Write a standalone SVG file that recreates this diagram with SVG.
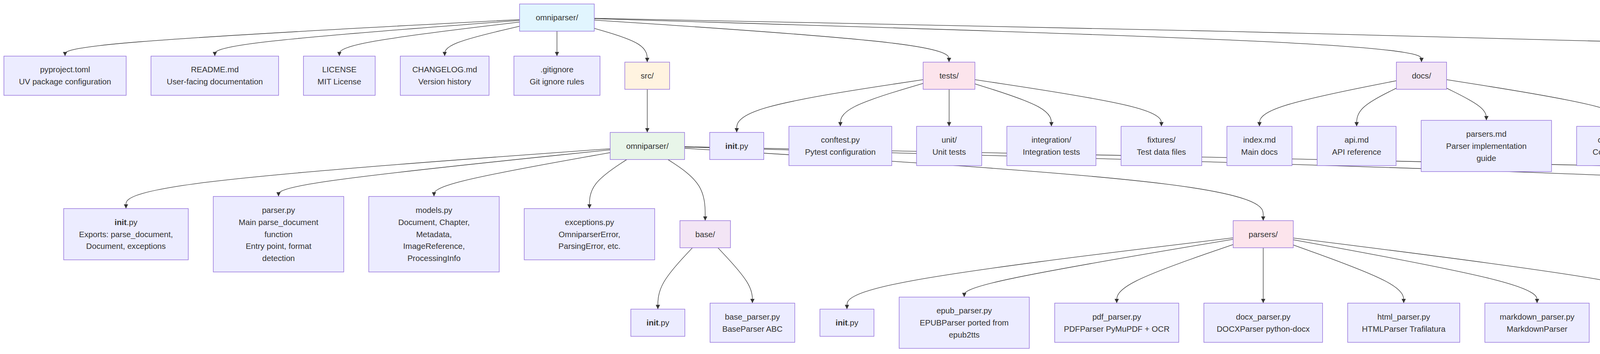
<svg xmlns="http://www.w3.org/2000/svg" width="7152" height="906" viewBox="0 0 7152 906">
<style>
.bg{fill:#ffffff}
.n rect{fill:#ECECFF;stroke:#9370DB;stroke-width:1.4}
.n text{font-family:"Liberation Sans",Arial,sans-serif;font-size:20.6px;fill:#333333;text-anchor:middle}
.n.root rect{fill:#E1F5FE}
.n.orange rect{fill:#FFF3E0}
.n.pink rect{fill:#FCE4EC}
.n.purple rect{fill:#F3E5F5}
.n.green rect{fill:#E8F5E9}
.n.yellow rect{fill:#FFF9C4}
.n.teal rect{fill:#E0F2F1}
.b{font-weight:bold}
#edges path{fill:none;stroke:#333333;stroke-width:1.3;marker-end:url(#arrow)}
</style>
<defs>
<marker id="arrow" viewBox="0 0 10 10" refX="10" refY="5" markerWidth="11" markerHeight="11" markerUnits="userSpaceOnUse" orient="auto">
<path d="M0,0 L10,5 L0,10 z" fill="#333333"/>
</marker>
</defs>
<rect class="bg" x="0" y="0" width="7152" height="906"/>
<g id="edges">
<path d="M1330.15,50.07 L1136.2,60.34 C942.27,70.61 554.38,91.16 360.44,106.75 C166.5,122.33 166.5,132.97 166.5,138.28 L166.5,143.6"/>
<path d="M1330.15,52.28 L1200.11,62.18 C1070.07,72.09 809.98,91.89 679.94,107.11 C549.9,122.33 549.9,132.97 549.9,138.28 L549.9,143.6"/>
<path d="M1330.15,56.45 L1253.24,65.66 C1176.33,74.87 1022.52,93.28 945.61,107.81 C868.7,122.33 868.7,132.97 868.7,138.28 L868.7,143.6"/>
<path d="M1330.15,67.2 L1298.19,74.62 C1266.23,82.03 1202.32,96.87 1170.36,109.6 C1138.4,122.33 1138.4,132.97 1138.4,138.28 L1138.4,143.6"/>
<path d="M1425.8,79.75 L1425.8,143.6"/>
<path d="M1521.45,72.6 L1544.03,79.12 C1566.6,85.63 1611.75,98.67 1634.32,113.08 C1656.9,127.48 1656.9,143.27 1656.9,151.16 L1656.9,159.05"/>
<path d="M1521.45,51.36 L1672.79,61.42 C1824.13,71.47 2126.82,91.59 2278.16,109.54 C2429.5,127.48 2429.5,143.27 2429.5,151.16 L2429.5,159.05"/>
<path d="M1521.45,47.88 L1874.38,58.52 C2227.3,69.15 2933.15,90.43 3286.07,108.96 C3639,127.48 3639,143.27 3639,151.16 L3639,159.05"/>
<path d="M1521.45,46.91 L2062.66,57.71 C2603.87,68.51 3686.28,90.1 4227.49,108.79 C4768.7,127.48 4768.7,143.27 4768.7,151.16 L4768.7,159.05"/>
<path d="M1657,228.55 L1657,338.85"/>
<path d="M2363.3,203.81 L2283.75,215.84 C2204.2,227.87 2045.1,251.94 1965.55,274.44 C1886,296.95 1886,317.9 1886,328.38 L1886,338.85"/>
<path d="M2363.3,213.36 L2327.97,223.8 C2292.63,234.24 2221.97,255.12 2186.63,273.46 C2151.3,291.8 2151.3,307.6 2151.3,315.5 L2151.3,323.4"/>
<path d="M2429.7,228.55 L2429.7,323.4"/>
<path d="M2495.7,214.56 L2528.35,224.8 C2561,235.04 2626.3,255.52 2658.95,273.66 C2691.6,291.8 2691.6,307.6 2691.6,315.5 L2691.6,323.4"/>
<path d="M2495.7,203.81 L2575.28,215.84 C2654.87,227.87 2814.03,251.94 2893.62,271.87 C2973.2,291.8 2973.2,307.6 2973.2,315.5 L2973.2,323.4"/>
<path d="M3574.7,206.54 L3516.28,218.12 C3457.87,229.69 3341.03,252.85 3282.62,272.32 C3224.2,291.8 3224.2,307.6 3224.2,315.5 L3224.2,323.4"/>
<path d="M3574.7,225.64 L3557.75,234.03 C3540.8,242.43 3506.9,259.21 3489.95,275.51 C3473,291.8 3473,307.6 3473,315.5 L3473,323.4"/>
<path d="M3703.3,225.62 L3720.27,234.02 C3737.23,242.41 3771.17,259.21 3788.13,272.94 C3805.1,286.67 3805.1,297.33 3805.1,302.67 L3805.1,308"/>
<path d="M3703.3,203.93 L3779.52,215.94 C3855.73,227.95 4008.17,251.98 4084.38,271.89 C4160.6,291.8 4160.6,307.6 4160.6,315.5 L4160.6,323.4"/>
<path d="M4681.45,217.08 L4644.64,226.9 C4607.83,236.72 4534.22,256.36 4497.41,274.08 C4460.6,291.8 4460.6,307.6 4460.6,315.5 L4460.6,323.4"/>
<path d="M4768.5,228.55 L4768.5,323.4"/>
<path d="M4855.95,213.55 L4901.93,223.96 C4947.9,234.37 5039.85,255.18 5085.82,270.93 C5131.8,286.67 5131.8,297.33 5131.8,302.67 L5131.8,308"/>
<path d="M1562.05,380.55 L1355.46,395.63 C1148.87,410.7 735.68,440.85 529.09,466.39 C322.5,491.93 322.5,512.87 322.5,523.33 L322.5,533.8"/>
<path d="M1562.05,383.42 L1420.54,398.02 C1279.03,412.61 996.02,441.81 854.51,461.7 C713,481.58 713,492.17 713,497.46 L713,502.75"/>
<path d="M1562.05,390.58 L1486.87,403.98 C1411.7,417.39 1261.35,444.19 1186.18,462.89 C1111,481.58 1111,492.17 1111,497.46 L1111,502.75"/>
<path d="M1604.39,408.35 L1588.49,418.79 C1572.59,429.23 1540.8,450.12 1524.9,471.03 C1509,491.93 1509,512.87 1509,523.33 L1509,533.8"/>
<path d="M1710.1,408.35 L1725.97,418.79 C1741.83,429.23 1773.57,450.12 1789.43,476.17 C1805.3,502.22 1805.3,533.43 1805.3,549.04 L1805.3,564.65"/>
<path d="M1752.55,379.49 L1999.43,394.74 C2246.3,409.99 2740.05,440.5 2986.92,471.36 C3233.8,502.22 3233.8,533.43 3233.8,549.04 L3233.8,564.65"/>
<path d="M1752.55,376.25 L2321.29,392.04 C2890.03,407.83 4027.52,439.42 4596.26,470.82 C5165,502.22 5165,533.43 5165,549.04 L5165,564.65"/>
<path d="M1752.55,375.5 L2552.49,391.42 C3352.43,407.33 4952.32,439.17 5752.26,470.69 C6552.2,502.22 6552.2,533.43 6552.2,549.04 L6552.2,564.65"/>
<path d="M1772.6,634.15 L1757.85,649.83 C1743.1,665.5 1713.6,696.85 1698.85,723.03 C1684.1,749.22 1684.1,770.23 1684.1,780.74 L1684.1,791.25"/>
<path d="M1837.92,634.15 L1852.63,649.83 C1867.35,665.5 1896.77,696.85 1911.49,720.46 C1926.2,744.07 1926.2,759.93 1926.2,767.87 L1926.2,775.8"/>
<path d="M3156.9,608.7 L2992.12,628.62 C2827.33,648.53 2497.77,688.37 2332.98,718.79 C2168.2,749.22 2168.2,770.23 2168.2,780.74 L2168.2,791.25"/>
<path d="M3156.9,612.34 L3042.15,631.65 C2927.4,650.96 2697.9,689.58 2583.15,714.26 C2468.4,738.93 2468.4,749.67 2468.4,755.03 L2468.4,760.4"/>
<path d="M3156.9,625.81 L3107.22,642.88 C3057.53,659.94 2958.17,694.07 2908.48,719.07 C2858.8,744.07 2858.8,759.93 2858.8,767.87 L2858.8,775.8"/>
<path d="M3233.8,634.15 L3233.8,775.8"/>
<path d="M3310.7,626.94 L3357.83,643.82 C3404.97,660.69 3499.23,694.45 3546.37,719.26 C3593.5,744.07 3593.5,759.93 3593.5,767.87 L3593.5,775.8"/>
<path d="M3310.7,613.53 L3414.73,632.64 C3518.77,651.75 3726.83,689.98 3830.87,717.02 C3934.9,744.07 3934.9,759.93 3934.9,767.87 L3934.9,775.8"/>
<path d="M3310.7,609.08 L3468.42,628.93 C3626.13,648.79 3941.57,688.49 4099.28,716.28 C4257,744.07 4257,759.93 4257,767.87 L4257,775.8"/>
<path d="M5073.15,617.63 L4980.29,636.06 C4887.43,654.49 4701.72,691.34 4608.86,720.28 C4516,749.22 4516,770.23 4516,780.74 L4516,791.25"/>
<path d="M5073.15,632.08 L5028.12,648.1 C4983.1,664.12 4893.05,696.16 4848.03,720.11 C4803,744.07 4803,759.93 4803,767.87 L4803,775.8"/>
<path d="M5165,634.15 L5165,775.8"/>
<path d="M5256.85,632.49 L5301.13,648.44 C5345.4,664.39 5433.95,696.3 5478.22,720.18 C5522.5,744.07 5522.5,759.93 5522.5,767.87 L5522.5,775.8"/>
<path d="M5256.85,616.42 L5357.38,635.05 C5457.9,653.68 5658.95,690.94 5759.47,717.5 C5860,744.07 5860,759.93 5860,767.87 L5860,775.8"/>
<path d="M6488.65,618.26 L6426.92,636.58 C6365.2,654.91 6241.75,691.55 6180.03,720.39 C6118.3,749.22 6118.3,770.23 6118.3,780.74 L6118.3,791.25"/>
<path d="M6508.79,634.15 L6489.21,649.83 C6469.63,665.5 6430.46,696.85 6410.88,720.46 C6391.3,744.07 6391.3,759.93 6391.3,767.87 L6391.3,775.8"/>
<path d="M6595.5,634.15 L6615.03,649.83 C6634.57,665.5 6673.63,696.85 6693.17,720.46 C6712.7,744.07 6712.7,759.93 6712.7,767.87 L6712.7,775.8"/>
<path d="M6615.75,617.43 L6680.83,635.89 C6745.9,654.35 6876.05,691.28 6941.12,717.67 C7006.2,744.07 7006.2,759.93 7006.2,767.87 L7006.2,775.8"/>
</g>
<g id="nodes">
<g id="root" class="n root"><rect x="1330.1" y="10.25" width="191.3" height="69.5"/><text x="1425.8" y="52.1">omniparser/</text></g>

<g id="pyproject" class="n"><rect x="10" y="143.6" width="313" height="100.4"/><text x="166.5" y="185.45">pyproject.toml</text><text x="166.5" y="216.35">UV package configuration</text></g>
<g id="readme" class="n"><rect x="386.5" y="143.6" width="326.8" height="100.4"/><text x="549.9" y="185.45">README.md</text><text x="549.9" y="216.35">User-facing documentation</text></g>
<g id="license" class="n"><rect x="776.8" y="143.6" width="183.7" height="100.4"/><text x="868.7" y="185.45">LICENSE</text><text x="868.7" y="216.35">MIT License</text></g>
<g id="changelog" class="n"><rect x="1024.7" y="143.6" width="227.3" height="100.4"/><text x="1138.4" y="185.45">CHANGELOG.md</text><text x="1138.4" y="216.35">Version history</text></g>
<g id="gitignore" class="n"><rect x="1315.6" y="143.6" width="220.4" height="100.4"/><text x="1425.8" y="185.45">.gitignore</text><text x="1425.8" y="216.35">Git ignore rules</text></g>
<g id="src" class="n orange"><rect x="1599.5" y="159.05" width="114.8" height="69.5"/><text x="1656.9" y="200.9">src/</text></g>
<g id="tests" class="n pink"><rect x="2363.3" y="159.05" width="132.4" height="69.5"/><text x="2429.5" y="200.9">tests/</text></g>
<g id="docs" class="n purple"><rect x="3574.7" y="159.05" width="128.6" height="69.5"/><text x="3639" y="200.9">docs/</text></g>
<g id="examples" class="n orange"><rect x="4681.4" y="159.05" width="174.5" height="69.5"/><text x="4768.7" y="200.9">examples/</text></g>

<g id="pkg" class="n green"><rect x="1562" y="338.85" width="190.5" height="69.5"/><text x="1657.3" y="380.7">omniparser/</text></g>
<g id="tests_init" class="n"><rect x="1816.8" y="338.85" width="138.5" height="69.5"/><text x="1886" y="380.7"><tspan class="b">init</tspan>.py</text></g>
<g id="conftest" class="n"><rect x="2019.6" y="323.4" width="263.3" height="100.4"/><text x="2151.3" y="365.25">conftest.py</text><text x="2151.3" y="396.15">Pytest configuration</text></g>
<g id="unit" class="n"><rect x="2346.4" y="323.4" width="166.9" height="100.4"/><text x="2429.9" y="365.25">unit/</text><text x="2429.9" y="396.15">Unit tests</text></g>
<g id="integration" class="n"><rect x="2577.5" y="323.4" width="228.1" height="100.4"/><text x="2691.6" y="365.25">integration/</text><text x="2691.6" y="396.15">Integration tests</text></g>
<g id="fixtures" class="n"><rect x="2869.9" y="323.4" width="206.6" height="100.4"/><text x="2973.2" y="365.25">fixtures/</text><text x="2973.2" y="396.15">Test data files</text></g>
<g id="index_md" class="n"><rect x="3140.8" y="323.4" width="166.8" height="100.4"/><text x="3224.2" y="365.25">index.md</text><text x="3224.2" y="396.15">Main docs</text></g>
<g id="api_md" class="n"><rect x="3371.9" y="323.4" width="202.1" height="100.4"/><text x="3473" y="365.25">api.md</text><text x="3473" y="396.15">API reference</text></g>
<g id="parsers_md" class="n"><rect x="3638.3" y="308" width="333.6" height="131.2"/><text x="3805.1" y="349.8">parsers.md</text><text x="3805.1" y="380.7">Parser implementation</text><text x="3805.1" y="411.6">guide</text></g>
<g id="contributing" class="n"><rect x="4036.2" y="323.4" width="248.7" height="100.4"/><text x="4160.6" y="365.25">contributing.md</text><text x="4160.6" y="396.15">Contribution guide</text></g>
<g id="basic_usage" class="n"><rect x="4349.2" y="323.4" width="222.7" height="100.4"/><text x="4460.6" y="365.25">basic_usage.py</text><text x="4460.6" y="396.15">Simple example</text></g>
<g id="batch_processing" class="n"><rect x="4636.2" y="323.4" width="264.1" height="100.4"/><text x="4768.3" y="365.25">batch_processing.py</text><text x="4768.3" y="396.15">Process directory</text></g>
<g id="custom_parser" class="n"><rect x="4964.5" y="308" width="334.5" height="131.2"/><text x="5131.8" y="349.8">custom_parser.py</text><text x="5131.8" y="380.7">Custom parser</text><text x="5131.8" y="411.6">implementation</text></g>

<g id="pkg_init" class="n"><rect x="163" y="533.8" width="319" height="131.2"/><text x="322.5" y="575.6"><tspan class="b">init</tspan>.py</text><text x="322.5" y="606.5">Exports: parse_document,</text><text x="322.5" y="637.4">Document, exceptions</text></g>
<g id="parser_py" class="n"><rect x="546" y="502.75" width="334" height="193.3"/><text x="713" y="544.7">parser.py</text><text x="713" y="575.6">Main parse_document</text><text x="713" y="606.5">function</text><text x="713" y="637.4">Entry point, format</text><text x="713" y="668.3">detection</text></g>
<g id="models_py" class="n"><rect x="944" y="502.75" width="334" height="193.3"/><text x="1111" y="544.7">models.py</text><text x="1111" y="575.6">Document, Chapter,</text><text x="1111" y="606.5">Metadata,</text><text x="1111" y="637.4">ImageReference,</text><text x="1111" y="668.3">ProcessingInfo</text></g>
<g id="exceptions_py" class="n"><rect x="1342" y="533.8" width="334" height="131.2"/><text x="1509" y="575.6">exceptions.py</text><text x="1509" y="606.5">OmniparserError,</text><text x="1509" y="637.4">ParsingError, etc.</text></g>
<g id="base" class="n purple"><rect x="1740.6" y="564.65" width="129.4" height="69.5"/><text x="1805.3" y="606.5">base/</text></g>
<g id="parsers" class="n pink"><rect x="3156.9" y="564.65" width="153.8" height="69.5"/><text x="3233.8" y="606.5">parsers/</text></g>
<g id="processors" class="n yellow"><rect x="5073.2" y="564.65" width="183.7" height="69.5"/><text x="5165" y="606.5">processors/</text></g>
<g id="utils" class="n teal"><rect x="6488.6" y="564.65" width="127.1" height="69.5"/><text x="6552.2" y="606.5">utils/</text></g>

<g id="base_init" class="n"><rect x="1614.9" y="791.25" width="138.4" height="69.5"/><text x="1684.1" y="833.1"><tspan class="b">init</tspan>.py</text></g>
<g id="base_parser" class="n"><rect x="1817.7" y="775.8" width="216.9" height="100.4"/><text x="1926.2" y="817.65">base_parser.py</text><text x="1926.2" y="848.55">BaseParser ABC</text></g>
<g id="parsers_init" class="n"><rect x="2099" y="791.25" width="138.4" height="69.5"/><text x="2168.2" y="833.1"><tspan class="b">init</tspan>.py</text></g>
<g id="epub_parser" class="n"><rect x="2301.8" y="760.4" width="333.2" height="131.2"/><text x="2468.4" y="802.2">epub_parser.py</text><text x="2468.4" y="833.1">EPUBParser ported from</text><text x="2468.4" y="864">epub2tts</text></g>
<g id="pdf_parser" class="n"><rect x="2700" y="775.8" width="317.6" height="100.4"/><text x="2858.8" y="817.65">pdf_parser.py</text><text x="2858.8" y="848.55">PDFParser PyMuPDF + OCR</text></g>
<g id="docx_parser" class="n"><rect x="3081.9" y="775.8" width="303.8" height="100.4"/><text x="3233.8" y="817.65">docx_parser.py</text><text x="3233.8" y="848.55">DOCXParser python-docx</text></g>
<g id="html_parser" class="n"><rect x="3450" y="775.8" width="287" height="100.4"/><text x="3593.5" y="817.65">html_parser.py</text><text x="3593.5" y="848.55">HTMLParser Trafilatura</text></g>
<g id="markdown_parser" class="n"><rect x="3801.3" y="775.8" width="267.1" height="100.4"/><text x="3934.9" y="817.65">markdown_parser.py</text><text x="3934.9" y="848.55">MarkdownParser</text></g>
<g id="text_parser" class="n"><rect x="4131.9" y="775.8" width="250.2" height="100.4"/><text x="4257" y="817.65">text_parser.py</text><text x="4257" y="848.55">TextParser chardet</text></g>
<g id="processors_init" class="n"><rect x="4446.4" y="791.25" width="139.3" height="69.5"/><text x="4516" y="833.1"><tspan class="b">init</tspan>.py</text></g>
<g id="chapter_detector" class="n"><rect x="4650" y="775.8" width="306.1" height="100.4"/><text x="4803" y="817.65">chapter_detector.py</text><text x="4803" y="848.55">Heading-based detection</text></g>
<g id="metadata_extractor" class="n"><rect x="5020.4" y="775.8" width="288.5" height="100.4"/><text x="5164.7" y="817.65">metadata_extractor.py</text><text x="5164.7" y="848.55">Metadata extraction</text></g>
<g id="markdown_converter" class="n"><rect x="5373.2" y="775.8" width="298.5" height="100.4"/><text x="5522.5" y="817.65">markdown_converter.py</text><text x="5522.5" y="848.55">HTML → Markdown</text></g>
<g id="text_cleaner" class="n"><rect x="5735.2" y="775.8" width="249.5" height="100.4"/><text x="5860" y="817.65">text_cleaner.py</text><text x="5860" y="848.55">Text normalization</text></g>
<g id="utils_init" class="n"><rect x="6048.5" y="791.25" width="139.6" height="69.5"/><text x="6118.3" y="833.1"><tspan class="b">init</tspan>.py</text></g>
<g id="format_detector" class="n"><rect x="6252" y="775.8" width="278.5" height="100.4"/><text x="6391.3" y="817.65">format_detector.py</text><text x="6391.3" y="848.55">Magic bytes detection</text></g>
<g id="encoding" class="n"><rect x="6594.4" y="775.8" width="236.6" height="100.4"/><text x="6712.7" y="817.65">encoding.py</text><text x="6712.7" y="848.55">Encoding utilities</text></g>
<g id="validators" class="n"><rect x="6894.9" y="775.8" width="222.6" height="100.4"/><text x="7006.2" y="817.65">validators.py</text><text x="7006.2" y="848.55">Input validation</text></g>
</g>
</svg>
